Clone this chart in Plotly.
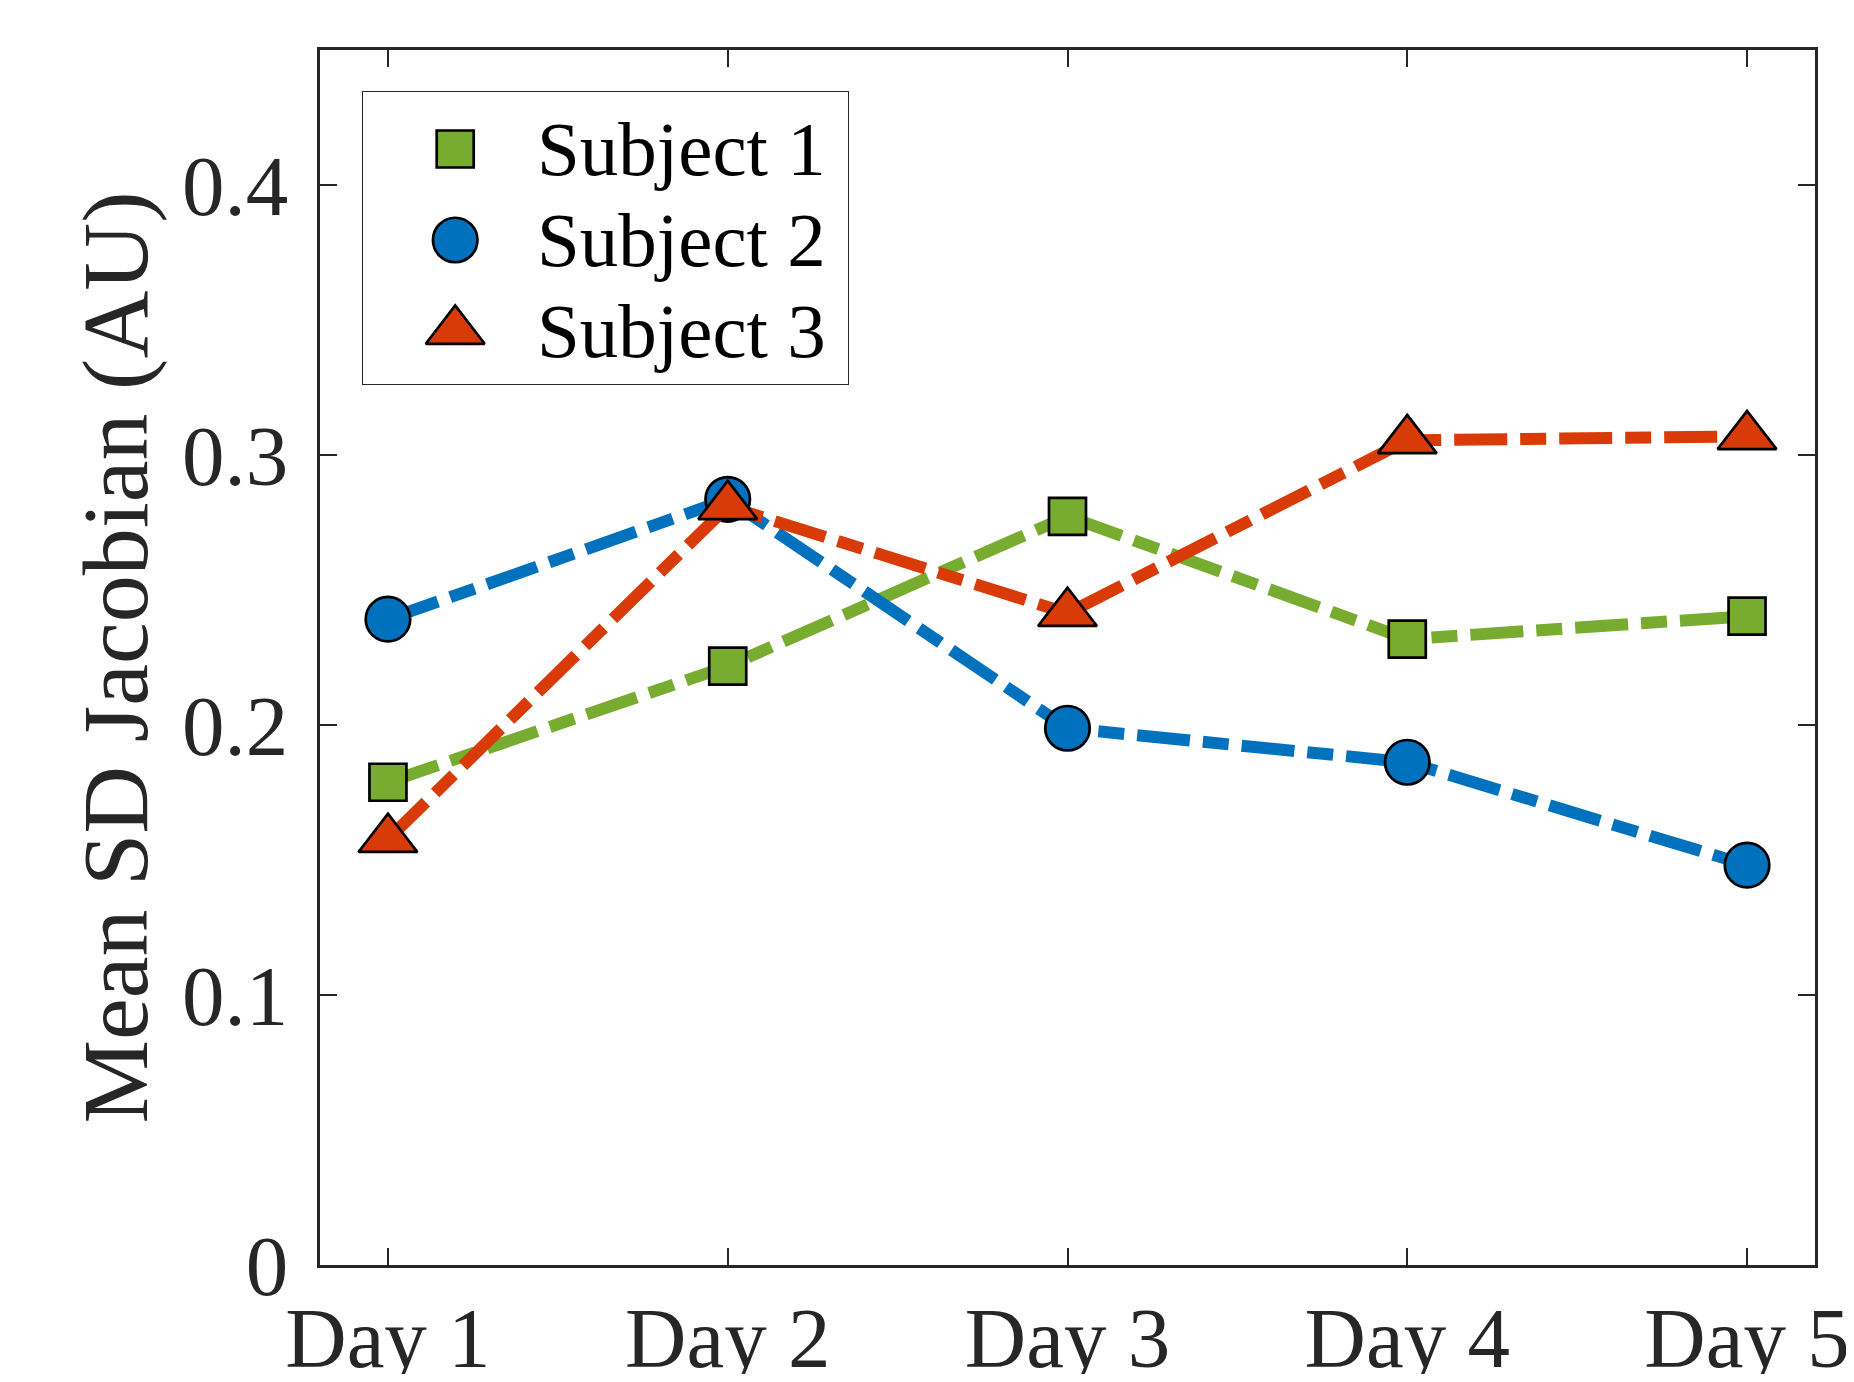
import plotly.graph_objects as go

days = ["Day 1", "Day 2", "Day 3", "Day 4", "Day 5"]
day_pos = [1, 2, 3, 4, 5]
series_names = ["Subject 1", "Subject 2", "Subject 3"]
subject1 = [0.1788, 0.2218, 0.2773, 0.2318, 0.2403]
subject2 = [0.2392, 0.2836, 0.1988, 0.1862, 0.1481]
subject3 = [0.1577, 0.2810, 0.2414, 0.3054, 0.3069]
y_ticks = [0, 0.1, 0.2, 0.3, 0.4]
y_ticktext = ["0", "0.1", "0.2", "0.3", "0.4"]

values = [subject1, subject2, subject3]
colors = ["#77AC30", "#0072BD", "#D93B08"]
symbols = ["square", "circle", "triangle-up"]
sizes = [37, 44.5, 51]

AX = "#262626"
FONT = "Liberation Serif"
DASH = "53px,13px,26px,13px"
MLW = 2.7

fig = go.Figure()
for name, vals, c, s, sz in zip(series_names, values, colors, symbols, sizes):
    fig.add_trace(go.Scatter(
        x=day_pos, y=vals, name=name, mode="lines+markers",
        line=dict(color=c, width=12, dash=DASH),
        marker=dict(symbol=s, size=sz, color=c, line=dict(color="black", width=MLW)),
        showlegend=False, xaxis="x", yaxis="y",
    ))

# legend drawn on an auxiliary axis inside the box
for i, (name, c, s, sz) in enumerate(zip(series_names, colors, symbols, sizes)):
    fig.add_trace(go.Scatter(
        x=[0.19], y=[i], mode="markers",
        marker=dict(symbol=s, size=sz, color=c, line=dict(color="black", width=MLW)),
        showlegend=False, hoverinfo="skip", xaxis="x2", yaxis="y2",
    ))
    fig.add_annotation(
        x=0.355, y=i, xref="x2", yref="y2", text=name, showarrow=False,
        xanchor="left", yanchor="middle",
        font=dict(family=FONT, size=77, color="black"),
    )

axis_common = dict(
    ticks="inside", ticklen=17, tickwidth=2, tickcolor=AX,
    showline=True, linecolor=AX, linewidth=2.5, mirror="ticks",
    showgrid=False, zeroline=False, automargin=False,
    ticklabeloverflow="allow",
    tickfont=dict(family=FONT, size=85, color=AX),
)

fig.update_layout(
    width=1838, height=1366,
    margin=dict(l=312, r=31, t=42, b=109),
    paper_bgcolor="white", plot_bgcolor="white",
    xaxis=dict(range=[0.8, 5.2], tickvals=day_pos, ticktext=days,
               ticklabelstandoff=-3, **axis_common),
    yaxis=dict(range=[0, 0.45], tickvals=y_ticks, ticktext=y_ticktext,
               ticklabelstandoff=12,
               title=dict(text="Mean SD Jacobian (AU)", font=dict(family=FONT, size=94, color=AX),
                          standoff=4),
               **axis_common),
    xaxis2=dict(domain=[0.0288, 0.3532], anchor="y2", range=[0, 1], automargin=False,
                showline=True, mirror=True, linecolor=AX, linewidth=1.3,
                showticklabels=False, ticks="", showgrid=False, zeroline=False),
    yaxis2=dict(domain=[0.7251, 0.9654], anchor="x2", range=[2.582, -0.626], automargin=False,
                showline=True, mirror=True, linecolor=AX, linewidth=1.3,
                showticklabels=False, ticks="", showgrid=False, zeroline=False),
    showlegend=False,
)

fig.write_html("out.html")
